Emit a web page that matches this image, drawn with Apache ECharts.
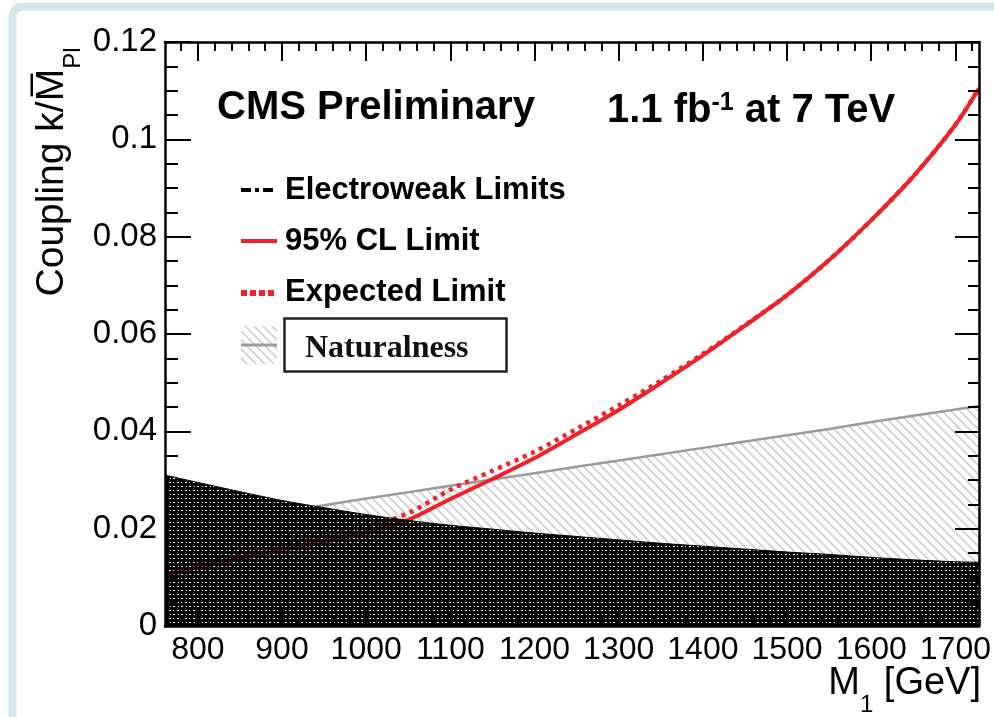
<!DOCTYPE html>
<html><head><meta charset="utf-8">
<script src="https://cdn.jsdelivr.net/npm/echarts@6/dist/echarts.min.js"></script>
<style>html,body{margin:0;padding:0;background:#fff}#c{width:994px;height:717px}</style>
</head><body><div id="c"></div>
<script>
// ---- data ----
const massPoints = [761, 800, 850, 900, 950, 1000, 1050, 1100, 1150, 1200, 1250, 1300, 1350, 1400, 1450, 1500, 1550, 1600, 1650, 1700, 1728];
const electroweakLimit = [0.0310, 0.0295, 0.0276, 0.0258, 0.0243, 0.0229, 0.0217, 0.0207, 0.0199, 0.0191, 0.0184, 0.0177, 0.0170, 0.0164, 0.0158, 0.0152, 0.0147, 0.0141, 0.0136, 0.0132, 0.0131];
const observedLimit = [0.0104, 0.0120, 0.0139, 0.0157, 0.0174, 0.0192, 0.0218, 0.0261, 0.0302, 0.0345, 0.0394, 0.0444, 0.0499, 0.0556, 0.0617, 0.0680, 0.0752, 0.0834, 0.0924, 0.1030, 0.1105];
const expectedLimit = [0.0112, 0.0127, 0.0146, 0.0165, 0.0184, 0.0204, 0.0232, 0.0280, 0.0319, 0.0358, 0.0405, 0.0453, 0.0504, 0.0559, 0.0618, 0.0680, 0.0752, 0.0834, 0.0924, 0.1030, 0.1105];
const naturalnessBound = [0.0200, 0.0209, 0.0222, 0.0235, 0.0248, 0.0262, 0.0275, 0.0288, 0.0301, 0.0314, 0.0327, 0.0340, 0.0353, 0.0366, 0.0379, 0.0392, 0.0405, 0.0419, 0.0432, 0.0445, 0.0452];
const xTickLabels = [800, 900, 1000, 1100, 1200, 1300, 1400, 1500, 1600, 1700];
const xMinorTicks = [780, 820, 840, 860, 880, 920, 940, 960, 980, 1020, 1040, 1060, 1080, 1120, 1140, 1160, 1180, 1220, 1240, 1260, 1280, 1320, 1340, 1360, 1380, 1420, 1440, 1460, 1480, 1520, 1540, 1560, 1580, 1620, 1640, 1660, 1680, 1720];
const yTickLabels = [0, 0.02, 0.04, 0.06, 0.08, 0.1, 0.12];

const pairs = vals => massPoints.map((m, i) => [m, vals[i]]);

function hatchPattern() {
  const c = document.createElement('canvas'); c.width = 9; c.height = 9;
  const g = c.getContext('2d');
  g.strokeStyle = '#cfcfcf'; g.lineWidth = 1.7;
  g.beginPath();
  g.moveTo(-1, -1); g.lineTo(10, 10);
  g.moveTo(-1, 8); g.lineTo(1, 10);
  g.moveTo(8, -1); g.lineTo(10, 1);
  g.stroke();
  return c;
}
function blackPattern() {
  const c = document.createElement('canvas'); c.width = 8; c.height = 8;
  const g = c.getContext('2d');
  g.fillStyle = '#000'; g.fillRect(0, 0, 8, 8);
  g.clearRect(1, 2, 2, 1); g.clearRect(5, 2, 1, 1);
  g.clearRect(2, 6, 1, 1); g.clearRect(5, 6, 2, 1);
  return c;
}
const hatch = {image: hatchPattern(), repeat: 'repeat'};
const blackFill = {image: blackPattern(), repeat: 'repeat'};

const FONT = '"Liberation Sans", Arial, Helvetica, sans-serif';
const xMin = 761, xMax = 1728;

function xAx(pos, major) {
  return {
    type: 'value', min: xMin, max: xMax, position: pos, z: 10,
    axisLine: {show: major, lineStyle: {color: '#000', width: 2.5}},
    axisTick: {show: true, inside: true, length: major ? 19 : 9, customValues: major ? xTickLabels : xMinorTicks, lineStyle: {color: '#000', width: 2}},
    axisLabel: {show: major && pos === 'bottom', customValues: xTickLabels, formatter: v => String(v), fontSize: 32, fontFamily: FONT, color: '#000', margin: 8},
    splitLine: {show: false}
  };
}
function yAx(pos) {
  const left = pos === 'left';
  return {
    type: 'value', min: 0, max: 0.12, interval: 0.02, position: pos, z: 10,
    axisLine: {show: true, lineStyle: {color: '#000', width: 2.5}},
    axisTick: {show: true, inside: true, length: left ? 26 : 24, lineStyle: {color: '#000', width: 2}},
    minorTick: {show: true, splitNumber: 4, length: left ? 13 : 11, lineStyle: {color: '#000', width: 2}},
    axisLabel: {show: left, fontSize: 33, fontFamily: FONT, color: '#000', margin: 8},
    splitLine: {show: false}, minorSplitLine: {show: false}
  };
}

const chart = echarts.init(document.getElementById('c'), null, {renderer: 'canvas'});
chart.setOption({
  animation: false,
  backgroundColor: '#fff',
  grid: {left: 165, top: 42, width: 817, height: 584, containLabel: false},
  xAxis: [xAx('bottom', true), xAx('bottom', false), xAx('top', true), xAx('top', false)],
  yAxis: [yAx('left'), yAx('right')],
  series: [
    {name: 'Naturalness', type: 'line', data: pairs(naturalnessBound), showSymbol: false, z: 1,
     lineStyle: {color: '#9b9b9b', width: 2.5}, areaStyle: {color: hatch, opacity: 1}},
    {name: 'ewMask', type: 'line', data: pairs(electroweakLimit), showSymbol: false, z: 2, smooth: 0.3,
     lineStyle: {width: 0}, areaStyle: {color: '#fff', opacity: 1}},
    {name: '95% CL Limit', type: 'line', data: pairs(observedLimit), showSymbol: false, z: 3, smooth: 0.3,
     lineStyle: {color: '#ee2228', width: 4}},
    {name: 'Expected Limit', type: 'line', data: pairs(expectedLimit), showSymbol: false, z: 3, smooth: 0.3,
     lineStyle: {color: '#ee2228', width: 4.5, type: [4, 5]}},
    {name: 'Electroweak Limits', type: 'line', data: pairs(electroweakLimit), showSymbol: false, z: 4, smooth: 0.3,
     lineStyle: {color: '#000', width: 1}, areaStyle: {color: blackFill, opacity: 1}}
  ],
  graphic: [
    {type: 'rect', silent: true, z: 0, shape: {x: 12.5, y: 6.5, width: 1000, height: 730, r: 10},
     style: {fill: null, stroke: '#d3e6e8', lineWidth: 8}},
    {type: 'text', x: 217, y: 108, z: 20, style: {text: 'CMS Preliminary', font: 'bold 40px ' + FONT, fill: '#000', textVerticalAlign: 'middle'}},
    {type: 'text', x: 607, y: 111, z: 20, style: {text: '{n|1.1 fb}{s|-1}{n| at 7 TeV}', fill: '#000', textVerticalAlign: 'middle',
      rich: {n: {font: 'bold 40px ' + FONT, fill: '#000'}, s: {font: 'bold 25px ' + FONT, fill: '#000', verticalAlign: 'top'}}}},
    // legend
    {type: 'rect', z: 20, shape: {x: 241, y: 188, width: 10, height: 4}, style: {fill: '#000'}},
    {type: 'rect', z: 20, shape: {x: 255, y: 188, width: 4, height: 4}, style: {fill: '#000'}},
    {type: 'rect', z: 20, shape: {x: 263, y: 188, width: 10, height: 4}, style: {fill: '#000'}},
    {type: 'rect', z: 20, shape: {x: 241, y: 239, width: 36, height: 4}, style: {fill: '#ee2228'}},
    {type: 'rect', z: 20, shape: {x: 241, y: 290, width: 6, height: 6}, style: {fill: '#ee2228'}},
    {type: 'rect', z: 20, shape: {x: 250, y: 290, width: 6, height: 6}, style: {fill: '#ee2228'}},
    {type: 'rect', z: 20, shape: {x: 259, y: 290, width: 6, height: 6}, style: {fill: '#ee2228'}},
    {type: 'rect', z: 20, shape: {x: 268, y: 290, width: 6, height: 6}, style: {fill: '#ee2228'}},
    {type: 'rect', z: 20, shape: {x: 241, y: 326, width: 36, height: 38}, style: {fill: hatch}},
    {type: 'line', z: 21, shape: {x1: 241, y1: 345, x2: 277, y2: 345}, style: {stroke: '#9b9b9b', lineWidth: 3}},
    {type: 'rect', z: 20, shape: {x: 284.5, y: 318.5, width: 222, height: 53}, style: {fill: '#fff', stroke: '#222', lineWidth: 2.5}},
    {type: 'text', x: 305, y: 349, z: 21, style: {text: 'Naturalness', font: 'bold 32px "Liberation Serif", "Times New Roman", serif', fill: '#111', textVerticalAlign: 'middle'}},
    {type: 'text', x: 285, y: 190, z: 20, style: {text: 'Electroweak Limits', font: 'bold 31px ' + FONT, fill: '#000', textVerticalAlign: 'middle'}},
    {type: 'text', x: 285, y: 241, z: 20, style: {text: '95% CL Limit', font: 'bold 31px ' + FONT, fill: '#000', textVerticalAlign: 'middle'}},
    {type: 'text', x: 285, y: 292, z: 20, style: {text: 'Expected Limit', font: 'bold 31px ' + FONT, fill: '#000', textVerticalAlign: 'middle'}},
    // axis titles
    {type: 'text', x: 981, y: 684, z: 20, style: {text: '{n|M}{s|1}{n| [GeV]}', textAlign: 'right', textVerticalAlign: 'middle',
      rich: {n: {font: '38px ' + FONT, fill: '#000'}, s: {font: '24px ' + FONT, fill: '#000', verticalAlign: 'bottom', padding: [0, 0, -14, 0]}}}},
    {type: 'text', x: 52, y: 172, rotation: Math.PI / 2, z: 20, style: {text: '{n|Coupling k/M\u0305}{s|Pl}', textAlign: 'center', textVerticalAlign: 'middle',
      rich: {n: {font: '39px ' + FONT, fill: '#000'}, s: {font: '24px ' + FONT, fill: '#000', verticalAlign: 'bottom', padding: [0, 0, -14, 0]}}}}
  ]
});
</script></body></html>
